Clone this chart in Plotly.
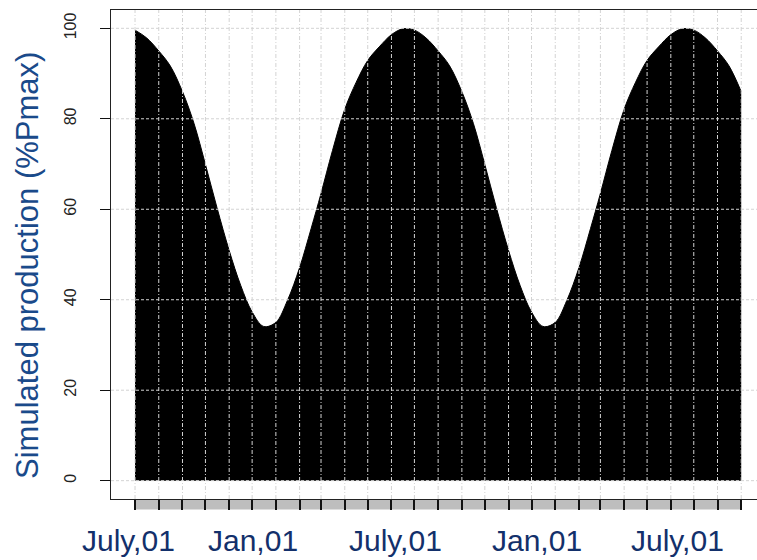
import plotly.graph_objects as go
import pandas as pd

# ---- data ----
dates = [
    "2012-07-01", "2012-07-16", "2012-08-01", "2012-08-16", "2012-09-01", "2012-09-16",
    "2012-10-01", "2012-10-16", "2012-11-01", "2012-11-16", "2012-12-01", "2012-12-16",
    "2013-01-01", "2013-01-16", "2013-02-01", "2013-02-16", "2013-03-01", "2013-03-16",
    "2013-04-01", "2013-04-16", "2013-05-01", "2013-05-16", "2013-06-01", "2013-06-16",
    "2013-07-01", "2013-07-16", "2013-08-01", "2013-08-16", "2013-09-01", "2013-09-16",
    "2013-10-01", "2013-10-16", "2013-11-01", "2013-11-16", "2013-12-01", "2013-12-16",
    "2014-01-01", "2014-01-16", "2014-02-01", "2014-02-16", "2014-03-01", "2014-03-16",
    "2014-04-01", "2014-04-16", "2014-05-01", "2014-05-16", "2014-06-01", "2014-06-16",
    "2014-07-01", "2014-07-16", "2014-08-01", "2014-08-16", "2014-09-01",
]
production = [
    99.6, 97.9, 95.0, 91.7, 86.0, 79.0,
    69.9, 60.4, 50.9, 43.2, 37.3, 34.1,
    35.0, 39.8, 47.1, 55.7, 63.5, 73.0,
    82.1, 88.1, 92.9, 95.9, 98.6, 99.9,
    99.6, 97.9, 95.0, 91.7, 86.0, 79.0,
    69.9, 60.4, 50.9, 43.2, 37.3, 34.1,
    35.0, 39.8, 47.1, 55.7, 63.5, 73.0,
    82.1, 88.1, 92.9, 95.9, 98.6, 99.9,
    99.6, 97.9, 95.0, 91.7, 86.0,
]
month_ticks = [d.strftime("%Y-%m-%d") for d in pd.date_range("2012-07-01", "2014-09-01", freq="MS")]
label_dates = ["2012-06-23", "2012-12-02", "2013-06-06", "2013-12-08", "2014-06-10"]
label_texts = ["July,01", "Jan,01", "July,01", "Jan,01", "July,01"]
y_ticks = [0, 20, 40, 60, 80, 100]
y_title = "Simulated production (%Pmax)"

FONT = "Liberation Sans, Arial, sans-serif"
GRID = "#D3D3D3"

fig = go.Figure()
fig.add_trace(go.Scatter(
    x=dates, y=production, mode="lines", line=dict(color="black", width=1, shape="spline", smoothing=1.0),
    fill="tozeroy", fillcolor="black", hoverinfo="skip", showlegend=False,
))

start = pd.Timestamp(dates[0])
x_range = [start - pd.Timedelta(days=31.4), start + pd.Timedelta(days=812.6)]

shapes = []
# gray strip under the axis
shapes.append(dict(type="rect", xref="x", yref="paper", x0=dates[0], x1=dates[-1],
                   y0=-0.0215, y1=-0.002, fillcolor="#BEBEBE", line=dict(width=0), layer="below"))
# vertical grid (monthly), drawn over the fill
for d in month_ticks:
    shapes.append(dict(type="line", xref="x", yref="paper", x0=d, x1=d, y0=0, y1=1,
                       line=dict(color=GRID, width=1, dash="4px,2px,1px,2px"), layer="above"))
# horizontal grid
for v in y_ticks:
    shapes.append(dict(type="line", xref="paper", yref="y", x0=0, x1=1, y0=v, y1=v,
                       line=dict(color=GRID, width=1, dash="3px,2px"), layer="above"))

annotations = []
for d, t in zip(label_dates, label_texts):
    annotations.append(dict(x=d, y=-0.047, xref="x", yref="paper", text=t, showarrow=False,
                            xanchor="center", yanchor="top",
                            font=dict(family=FONT, size=30, color="#13306B")))
annotations.append(dict(x=-0.1285, y=0.4786, xref="paper", yref="paper", text=y_title,
                        textangle=-90, showarrow=False, xanchor="center", yanchor="middle",
                        font=dict(family=FONT, size=31, color="#1A4A8A")))

fig.update_layout(
    width=757, height=560,
    margin=dict(l=111, r=0, t=10, b=61, autoexpand=False),
    paper_bgcolor="white", plot_bgcolor="white",
    font=dict(family=FONT),
    showlegend=False,
    shapes=shapes,
    annotations=annotations,
    xaxis=dict(
        type="date", range=x_range, tickvals=month_ticks, showticklabels=False,
        ticks="outside", ticklen=10, tickwidth=1.5, tickcolor="#111111",
        showline=True, linecolor="#222222", linewidth=1, mirror=True,
        showgrid=False, zeroline=False, automargin=False,
    ),
    yaxis=dict(
        range=[-4.05, 104.05], tickvals=y_ticks, ticktext=[str(v) for v in y_ticks],
        ticks="outside", ticklen=10, tickwidth=1, tickcolor="#111111",
        showline=True, linecolor="#222222", linewidth=1,
        tickangle=-90, tickfont=dict(family=FONT, size=16, color="#222222"),
        ticklabelstandoff=18,
        showgrid=False, zeroline=False, automargin=False,
    ),
)

fig.write_html("out.html", config={"displayModeBar": False},
               post_script="document.body.style.margin='0';document.body.style.overflow='hidden';")
